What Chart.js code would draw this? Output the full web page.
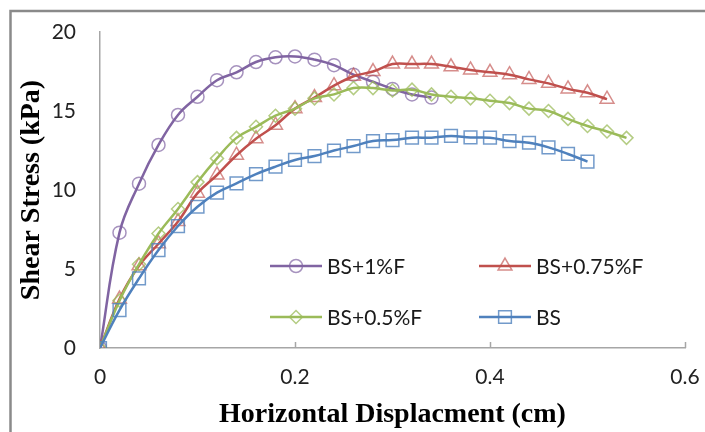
<!DOCTYPE html>
<html>
<head>
<meta charset="utf-8">
<script src="https://cdn.jsdelivr.net/npm/chart.js@4.4.0/dist/chart.umd.min.js"></script>
<style>
  body { margin: 0; background: #fff; }
  #wrap { width: 705px; height: 432px; }
</style>
</head>
<body>
<div id="wrap"><canvas id="chart-shear" width="705" height="432"></canvas></div>
<script>
/* **** DATA **** */

// horizontal displacement (cm), one reading every 0.02 cm
const displacement = [0, 0.02, 0.04, 0.06, 0.08, 0.10, 0.12, 0.14, 0.16, 0.18, 0.20, 0.22, 0.24, 0.26,
  0.28, 0.30, 0.32, 0.34, 0.36, 0.38, 0.40, 0.42, 0.44, 0.46, 0.48, 0.50, 0.52, 0.54];

const seriesNames = ['BS+1%F', 'BS+0.75%F', 'BS+0.5%F', 'BS'];

// shear stress (kPa)
const bs1F = [0, 7.3, 10.4, 12.85, 14.75, 15.9, 16.95, 17.45, 18.1, 18.4, 18.45, 18.25, 17.9, 17.3,
  16.85, 16.4, 16.05, 15.85];
const bs075F = [0, 3.1, 5.2, 6.6, 8.0, 9.8, 10.95, 12.2, 13.25, 14.1, 15.15, 15.85, 16.6, 17.2,
  17.5, 17.97, 17.97, 17.97, 17.8, 17.6, 17.45, 17.3, 17.0, 16.75, 16.4, 16.15, 15.75];
const bs05F = [0, 3.0, 5.3, 7.25, 8.8, 10.5, 12.0, 13.3, 14.0, 14.7, 15.15, 15.8, 16.05, 16.45,
  16.45, 16.3, 16.35, 16.05, 15.9, 15.8, 15.65, 15.5, 15.15, 15.0, 14.5, 14.05, 13.7, 13.3];
const bs = [0, 2.4, 4.4, 6.2, 7.72, 8.94, 9.83, 10.42, 11.0, 11.48, 11.9, 12.15, 12.5, 12.78,
  13.1, 13.16, 13.31, 13.31, 13.42, 13.33, 13.31, 13.1, 12.99, 12.7, 12.28, 11.8];

const xTickLabels = ['0', '0.2', '0.4', '0.6'];
const yTickLabels = ['0', '5', '10', '15', '20'];

/* **** MAIN **** */

const pairUp = ys => ys.map((y, i) => ({ x: displacement[i], y: y }));

const styles = [
  { line: '#8064A2', marker: 'rgba(128,100,162,0.7)', shape: 'circle', r: 6.5 },
  { line: '#C0504D', marker: 'rgba(192,80,77,0.65)', shape: 'triangle', r: 8 },
  { line: '#9BBB59', marker: 'rgba(155,187,89,0.75)', shape: 'rectRot', r: 6.5 },
  { line: '#4F81BD', marker: 'rgba(79,129,189,0.8)', shape: 'rect', r: 9 }
];

const allSeries = [bs1F, bs075F, bs05F, bs];

const datasets = allSeries.map((ys, i) => ({
  label: seriesNames[i],
  data: pairUp(ys),
  showLine: true,
  tension: 0.4,
  borderColor: styles[i].line,
  borderWidth: 2.5,
  pointStyle: styles[i].shape,
  pointRadius: styles[i].r,
  pointHoverRadius: styles[i].r,
  pointBorderColor: styles[i].marker,
  pointBackgroundColor: 'rgba(0,0,0,0)',
  pointBorderWidth: 1.5,
  order: 3 - i
}));

function marker(ctx, shape, x, y, r) {
  ctx.beginPath();
  if (shape === 'circle') {
    ctx.arc(x, y, r, 0, Math.PI * 2);
  } else if (shape === 'triangle') {
    for (let k = 0; k < 3; k++) {
      const a = k * 2 * Math.PI / 3;
      const px = x + Math.sin(a) * r, py = y - Math.cos(a) * r;
      k === 0 ? ctx.moveTo(px, py) : ctx.lineTo(px, py);
    }
    ctx.closePath();
  } else if (shape === 'rectRot') {
    ctx.moveTo(x, y - r); ctx.lineTo(x + r, y); ctx.lineTo(x, y + r); ctx.lineTo(x - r, y);
    ctx.closePath();
  } else {
    const s = r * Math.SQRT1_2;
    ctx.rect(x - s, y - s, 2 * s, 2 * s);
  }
  ctx.stroke();
}

// frame, inner x ticks and the 2x2 legend inside the plot
const extras = {
  id: 'extras',
  beforeDraw(chart) {
    const ctx = chart.ctx;
    ctx.save();
    ctx.strokeStyle = '#8a8a8a';
    ctx.lineWidth = 2.5;
    ctx.beginPath();
    ctx.moveTo(10.5, 432); ctx.lineTo(10.5, 11); ctx.lineTo(705, 11);
    ctx.stroke();
    ctx.restore();
  },
  afterDraw(chart) {
    const ctx = chart.ctx;
    const xs = chart.scales.x, area = chart.chartArea;
    ctx.save();
    ctx.strokeStyle = '#a6a6a6';
    ctx.lineWidth = 1.5;
    [0.2, 0.4, 0.6].forEach(v => {
      const px = Math.round(xs.getPixelForValue(v)) + 0.5;
      ctx.beginPath(); ctx.moveTo(px, area.bottom); ctx.lineTo(px, area.bottom - 6); ctx.stroke();
    });

    const cols = [270, 479], rows = [266, 317];
    ctx.font = '21px Lato';
    ctx.textBaseline = 'middle';
    ctx.fillStyle = '#1a1a1a';
    chart.data.datasets.forEach((ds, i) => {
      const x0 = cols[i % 2], y0 = rows[Math.floor(i / 2)];
      ctx.strokeStyle = styles[i].line;
      ctx.lineWidth = 2.5;
      ctx.beginPath(); ctx.moveTo(x0, y0); ctx.lineTo(x0 + 52, y0); ctx.stroke();
      ctx.strokeStyle = styles[i].marker;
      ctx.lineWidth = 1.5;
      marker(ctx, styles[i].shape, x0 + 26, y0, styles[i].r);
      ctx.fillText(ds.label, x0 + 57, y0 + 1);
    });
    ctx.restore();
  }
};

const canvas = document.getElementById('chart-shear');
let chart = new Chart(canvas, {
  type: 'scatter',
  data: { datasets: datasets },
  options: {
    responsive: false,
    animation: false,
    devicePixelRatio: 1,
    layout: { padding: { top: 32, right: 20, left: 0, bottom: 0 } },
    plugins: { legend: { display: false }, tooltip: { enabled: false } },
    scales: {
      x: {
        type: 'linear',
        min: 0, max: 0.6,
        afterFit: s => { s.height = 84; s.paddingLeft = 0; s.paddingRight = 0; },
        afterBuildTicks: s => { s.ticks = xTickLabels.map(t => ({ value: parseFloat(t) })); },
        ticks: {
          padding: 17,
          color: '#222',
          font: { family: 'Lato', size: 21 },
          callback: (v, i) => xTickLabels[i]
        },
        grid: { display: false, drawTicks: false },
        border: { color: '#a6a6a6', width: 1.5 },
        title: {
          display: true,
          text: 'Horizontal Displacment (cm)',
          color: '#000',
          font: { family: 'Liberation Serif', size: 28, weight: 'bold', lineHeight: 1.2 },
          padding: { top: 8, bottom: 0 }
        }
      },
      y: {
        min: 0, max: 20,
        afterFit: s => { s.width = 100; s.paddingTop = 0; s.paddingBottom = 0; },
        afterBuildTicks: s => { s.ticks = yTickLabels.map(t => ({ value: parseFloat(t) })); },
        ticks: {
          padding: 24,
          color: '#222',
          font: { family: 'Lato', size: 21 },
          callback: (v, i) => yTickLabels[i]
        },
        grid: { display: false, drawTicks: false },
        border: { color: '#a6a6a6', width: 1.5 },
        title: {
          display: true,
          text: 'Shear Stress (kPa)',
          color: '#000',
          font: { family: 'Liberation Serif', size: 28, weight: 'bold', lineHeight: 1.2 },
          padding: { top: 15, bottom: 0 }
        }
      }
    }
  },
  plugins: [extras]
});
</script>
</body>
</html>
